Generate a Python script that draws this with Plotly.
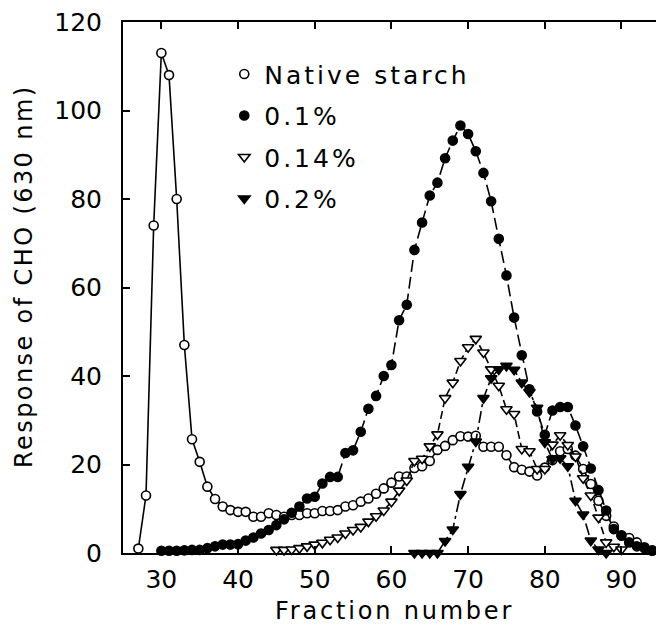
import plotly.graph_objects as go

# ---------------- data ----------------
frac_native = list(range(27, 95))
native = [1, 13, 74, 113, 108, 80, 47, 25.7, 20.6, 15,
          12.2, 10.5, 9.7, 9.3, 9.3, 8.2, 8.2, 9.0, 8.6, 8.2,
          8.6, 8.6, 9.0, 9.0, 9.5, 9.5, 9.7, 10.5, 10.8, 11.6,
          12.3, 13.4, 14.6, 15.9, 17.3, 17.3, 19.2, 19.6, 20.8, 23.3,
          24.2, 25.5, 26.4, 26.3, 26.5, 24, 24, 24, 22.1, 19.4,
          18.8, 18.4, 17.5, 19.3, 21, 23, 23.5, 22, 19, 15.6,
          11.8, 8.4, 6, 4, 3.4, 2.4, 1.3, 0.5]

frac_01 = list(range(30, 95))
pct_01 = [0.5, 0.5, 0.5, 0.6, 0.7, 0.7, 1.1, 1.5, 1.9, 1.9,
          2.0, 2.8, 3.5, 4.4, 5.2, 6.3, 7.6, 9.1, 10.5, 12.3,
          12.7, 15.7, 17.2, 17.2, 22.6, 23.2, 27.4, 32.6, 35.5, 40,
          42.5, 52.6, 56.1, 68.5, 74.7, 80.8, 83.7, 89.2, 93.2, 96.6,
          94.7, 90.8, 85.9, 79.5, 71.0, 62.7, 53.2, 44.7, 37.0, 32.0,
          26.7, 32.2, 33.0, 33.0, 28.8, 24.1, 19.1, 14.2, 9.6, 5.4,
          3.9, 2.4, 1.5, 1.1, 0.6]

frac_014 = list(range(45, 91))
pct_014 = [0.7, 0.7, 0.8, 1.1, 1.5, 1.9, 2.3, 3.0, 3.5, 4.4,
           5.2, 5.9, 7.1, 8.3, 9.6, 11.6, 14.1, 16.4, 20.8, 21.3,
           24.1, 26.8, 35, 38.5, 43.4, 46.5, 48.4, 45.3, 41.5, 37.8,
           32.5, 31.4, 23.5, 23.0, 19.0, 19.0, 24.5, 26.6, 24.4, 21.8,
           16.9, 13.0, 8.0, 2.4, 1.4, 0.8]

frac_02_early = list(range(39, 45))
pct_02_early = [-0.3, -0.3, -0.3, -0.3, -0.3, -0.3]
frac_02_late = list(range(63, 89))
pct_02_late = [0, 0, 0, 0,
               2.7, 5.3, 13.3, 19.5, 25.2, 35, 39.5, 41.5, 42.3, 41.4,
               38.5, 36.4, 32.8, 25, 21.2, 21.4, 19.6, 11.8, 8.7, 2.8,
               0.8, 0]

series_names = ["Native starch", "0.1%", "0.14%", "0.2%"]
x_ticks = [30, 40, 50, 60, 70, 80, 90]
y_ticks = [0, 20, 40, 60, 80, 100, 120]
x_title = "Fraction number"
y_title = "Response of CHO (630 nm)"

# ---------------- figure ----------------
FONT = "DejaVu Sans"


def spaced(text, px):
    return '<span style="letter-spacing:%spx">%s</span>' % (px, text)


fig = go.Figure()

series = [
    (frac_native, native, "solid", "circle", "white", 9),
    (frac_01, pct_01, "12px,5px", "circle", "black", 9),
    (frac_014, pct_014, "8px,4px", "triangle-down", "white", 10),
    (frac_02_early + [None] + frac_02_late,
     pct_02_early + [None] + pct_02_late, "12px,4px,3px,4px",
     "triangle-down", "black", 10),
]

for name, (xs, ys, dash, sym, fill, size) in zip(series_names, series):
    fig.add_trace(go.Scatter(
        x=xs, y=ys, mode="lines", showlegend=False, hoverinfo="skip",
        line=dict(color="black", width=1.6, dash=dash),
        cliponaxis=False, legendgroup=name))
    fig.add_trace(go.Scatter(
        x=xs, y=ys, mode="markers", name=spaced(name, 3), legendgroup=name,
        marker=dict(symbol=sym, size=size, color=fill,
                    line=dict(color="black", width=1.6)),
        cliponaxis=False))

fig.update_layout(
    width=656, height=631,
    margin=dict(l=123, r=0, t=22, b=78),
    paper_bgcolor="white", plot_bgcolor="white",
    font=dict(family=FONT, color="black", size=22),
    showlegend=True,
    legend=dict(x=0.19, y=0.945, xanchor="left", yanchor="top",
                traceorder="grouped", tracegroupgap=6,
                font=dict(family=FONT, size=25, color="black"),
                bgcolor="rgba(0,0,0,0)", itemclick=False),
    xaxis=dict(range=[25, 94.5], tickvals=x_ticks, ticks="inside",
               ticklen=7, tickwidth=1.5, tickcolor="black",
               showline=True, linewidth=2, linecolor="black",
               mirror="ticks", showgrid=False, zeroline=False,
               tickfont=dict(family=FONT, size=25, color="black"),
               ticklabelstandoff=3),
    yaxis=dict(range=[0, 120], tickvals=y_ticks, ticks="inside",
               ticklen=7, tickwidth=1.5, tickcolor="black",
               showline=True, linewidth=2, linecolor="black",
               mirror=False, showgrid=False, zeroline=False,
               tickfont=dict(family=FONT, size=25, color="black"),
               ticklabelstandoff=14),
    yaxis2=dict(range=[0, 120], overlaying="y", side="right", anchor="x",
                tickvals=[60, 80, 100], ticks="inside", ticklen=4,
                tickwidth=1.5, tickcolor="black", showticklabels=False,
                showline=False, showgrid=False, zeroline=False),
    annotations=[
        dict(text=spaced(x_title, 2.8), xref="paper", yref="paper",
             x=0.51, y=0, yshift=-58, xanchor="center", yanchor="middle",
             showarrow=False, font=dict(family=FONT, size=24, color="black")),
        dict(text=spaced(y_title, 2.4), xref="paper", yref="paper",
             x=0, y=0.52, xshift=-99, xanchor="center", yanchor="middle",
             textangle=-90, showarrow=False,
             font=dict(family=FONT, size=24, color="black")),
    ],
)

# remove the browser's default 8px body margin so the figure sits at (0, 0)
fig.write_html("out.html",
               config={"displayModeBar": False},
               post_script="document.body.style.margin='0';"
                           "document.body.style.overflow='hidden';")
